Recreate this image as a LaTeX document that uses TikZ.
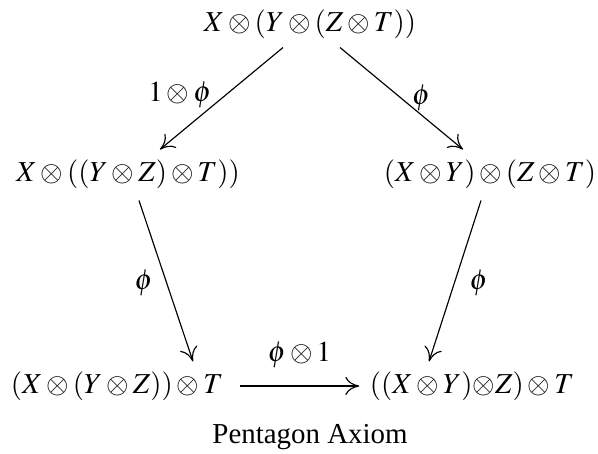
\documentclass[tikz,border=0pt]{standalone}
\usepackage{amsmath,amssymb}
\usepackage{mathptmx}
\usepackage[no-math]{fontspec}
\setmainfont{Liberation Serif}
\usepackage{tikz}
\usetikzlibrary{arrows.meta,positioning,calc}

\begin{document}
\begin{tikzpicture}[
  x=0.346pt, y=-0.346pt,
  obj/.style={inner sep=0pt, text height=7.5pt, text depth=2.5pt, font=\normalsize},
  lbl/.style={inner sep=0pt, font=\normalsize},
  arr/.style={-{To[length=1.7mm,width=2.2mm]}, line width=0.4pt}
]
\useasboundingbox (0,0) rectangle (598,454);
\node[obj] (top) at (310,24) {$X\otimes(Y\otimes(Z\otimes T))$};
\node[obj] (midl) at (128,174) {$X\otimes((Y\otimes Z)\otimes T))$};
\node[obj] (midr) at (490,174) {$(X\otimes Y)\otimes(Z\otimes T)$};
\node[obj] (botl) at (117,386) {$(X\otimes(Y\otimes Z))\otimes T$};
\node[obj] (botr) at (472,386) {$((X\otimes Y){\otimes}Z)\otimes T$};
\node[lbl] (cap) at (310,437) {Pentagon Axiom};
\draw[arr] ($(top.south)+(-27,8.5)$) -- node[lbl, pos=.47, left=4.5pt] {$1\otimes\phi$} ($(midl.north)+(32,-9.5)$);
\draw[arr] ($(top.south)+(30,8.5)$) -- node[lbl, pos=.5, right=3.5pt] {$\phi$} ($(midr.north)+(-27,-9.5)$);
\draw[arr] ($(midl.south)+(11,11.5)$) -- node[lbl, pos=.51, left=4.5pt] {$\phi$} ($(botl.north)+(76,-9.5)$);
\draw[arr] ($(midr.south)+(-9,11.5)$) -- node[lbl, pos=.51, right=5pt] {$\phi$} ($(botr.north)+(-43,-9.5)$);
\draw[arr] ($(botl.east)+(16,0)$) -- node[lbl, above=6pt] {$\phi\otimes 1$} ($(botr.west)+(-10,0)$);
\end{tikzpicture}
\end{document}
